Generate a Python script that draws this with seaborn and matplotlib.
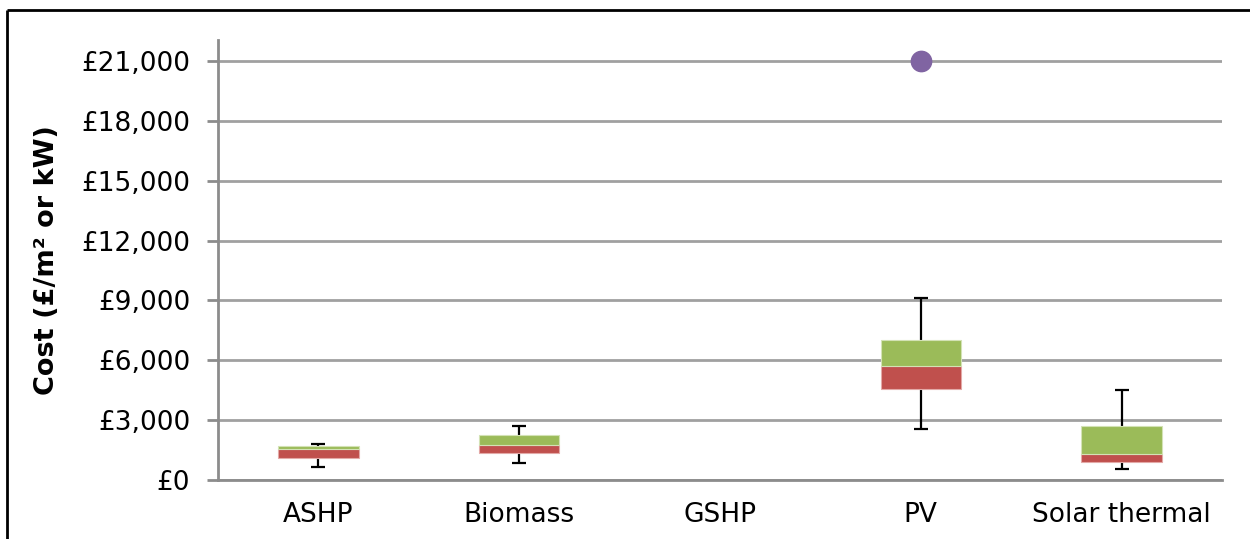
import numpy as np
import pandas as pd
import matplotlib
matplotlib.use("Agg")
import matplotlib.pyplot as plt
from matplotlib.lines import Line2D
from matplotlib.ticker import FuncFormatter, FixedLocator
import seaborn as sns

# values (GBP per m2 or kW)
categories = ["ASHP", "Biomass", "GSHP", "PV", "Solar thermal"]
mins = [670, 870, np.nan, 2570, 570]
q1 = [1100, 1340, np.nan, 4560, 900]
medians = [1540, 1770, np.nan, 5730, 1320]
q3 = [1690, 2240, np.nan, 7030, 2710]
maxs = [1820, 2690, np.nan, 9120, 4510]
outlier_cat = ["PV"]
outlier_val = [21000]

green = "#9BBB59"
red = "#C0504D"
purple = "#8064A2"
grid_col = "#A0A0A0"
spine_col = "#8C8C8C"

sns.set_style("white")
plt.rcParams["font.family"] = ["DejaVu Sans"]
plt.rcParams["text.color"] = "black"
plt.rcParams["axes.labelcolor"] = "black"
plt.rcParams["xtick.color"] = "black"
plt.rcParams["ytick.color"] = "black"

df = pd.DataFrame({"cat": categories, "min": mins, "q1": q1, "med": medians,
                   "q3": q3, "max": maxs})
pos = np.arange(len(categories))

fig = plt.figure(figsize=(12.5, 5.39), dpi=100)
ax = fig.add_axes([218 / 1250, 59 / 539, 1004 / 1250, 440 / 539])

ax.set_ylim(0, 22050)
ax.set_xlim(-0.5, len(categories) - 0.5)
ax.yaxis.set_major_locator(FixedLocator(np.arange(0, 21001, 3000)))
ax.yaxis.set_major_formatter(FuncFormatter(lambda v, p: "£{:,.0f}".format(v)))
ax.grid(axis="y", color=grid_col, linewidth=2)
ax.set_axisbelow(True)

# whiskers
ax.errorbar(pos, (df["max"] + df["min"]) / 2, yerr=(df["max"] - df["min"]) / 2,
            fmt="none", ecolor="black", elinewidth=1.6, capsize=5,
            capthick=1.6, zorder=2)

# box: red lower half, green upper half
ax.bar(pos, df["med"] - df["q1"], bottom=df["q1"], width=0.4, color=red,
       edgecolor="#E3A9A7", linewidth=0.8, zorder=3)
ax.bar(pos, df["q3"] - df["med"], bottom=df["med"], width=0.4, color=green,
       edgecolor="#D3E2B5", linewidth=0.8, zorder=3)

out = pd.DataFrame({"x": [categories.index(c) for c in outlier_cat], "y": outlier_val})
sns.scatterplot(data=out, x="x", y="y", ax=ax, color=purple, s=210,
                edgecolor=purple, zorder=4, legend=False)

ax.set_xticks(pos)
ax.set_xticklabels(categories)
ax.set_xticks(np.arange(-0.5, len(categories), 1), minor=True)
ax.tick_params(axis="x", which="major", length=0, pad=16, labelsize=19,
               labelcolor="black")
ax.tick_params(axis="x", which="minor", length=8, width=2, color=spine_col,
               direction="out")
ax.tick_params(axis="y", length=8, width=2, color=spine_col, pad=12,
               labelsize=19, left=True, labelcolor="black")
ax.set_xlabel("")
ax.set_ylabel("Cost (£/m² or kW)", fontsize=19.5, fontweight="bold", color="black")
ax.yaxis.set_label_coords((60 - 218) / 1004, 0.5)

for s in ["top", "right"]:
    ax.spines[s].set_visible(False)
for s in ["left", "bottom"]:
    ax.spines[s].set_color(spine_col)
    ax.spines[s].set_linewidth(2)

# outer chart frame (left and top edges are visible in the crop)
fy = 1 - 10 / 539
fx = 7 / 1250
fig.add_artist(Line2D([fx, fx], [-0.05, fy], transform=fig.transFigure,
                      color="black", linewidth=2, solid_capstyle="butt"))
fig.add_artist(Line2D([fx, 1.05], [fy, fy], transform=fig.transFigure,
                      color="black", linewidth=2, solid_capstyle="butt"))

fig.savefig("out.png", dpi=100)
